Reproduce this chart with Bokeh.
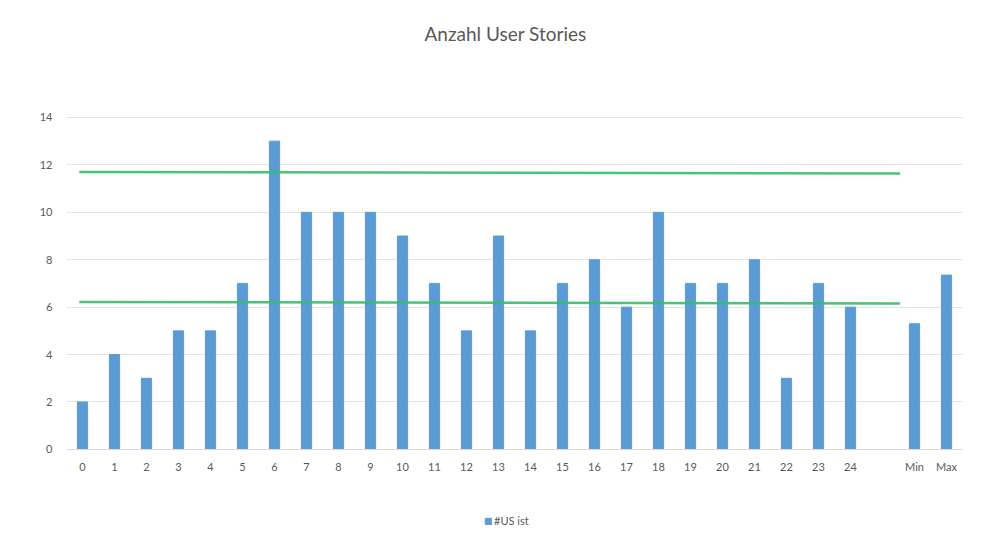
from bokeh.plotting import figure
from bokeh.models import FixedTicker, Legend, LegendItem, ColumnDataSource, Label
from bokeh.embed import file_html
from bokeh.resources import INLINE

title_text = "Anzahl User Stories"
categories = [str(i) for i in range(25)] + ["", "Min", "Max"]
us_ist = [2, 4, 3, 5, 5, 7, 13, 10, 10, 10, 9, 7, 5, 9, 5, 7, 8, 6, 10, 7, 7, 8, 3, 7, 6, None, 5.3, 7.35]
trend_x = [-0.1, 25.55]
trend_upper = [11.7, 11.64]
trend_lower = [6.22, 6.15]
y_ticks = [0, 2, 4, 6, 8, 10, 12, 14]

FONT = "Lato"
GRAY = "#595959"

xs = [i for i, v in enumerate(us_ist) if v is not None]
tops = [v for v in us_ist if v is not None]
src = ColumnDataSource(dict(x=xs, top=tops))

p = figure(width=979, height=535, output_backend="svg", toolbar_location=None,
           x_range=(-0.5, len(categories) - 0.5), y_range=(-3.63, 18.93),
           min_border_left=66, min_border_right=17, min_border_top=0, min_border_bottom=0)
p.outline_line_color = None

bars = p.vbar(x="x", top="top", width=0.32, source=src, color="#5B9BD5")
p.line(trend_x, trend_upper, line_color="#33BE68", line_width=2.5, line_alpha=0.9)
p.line(trend_x, trend_lower, line_color="#33BE68", line_width=2.5, line_alpha=0.9)

title = Label(x=13.22, y=17.55, text=title_text, text_align="center", text_baseline="middle",
              text_font=FONT, text_font_size="19px", text_color=GRAY)
p.add_layout(title)

p.xaxis.fixed_location = 0
p.xaxis.ticker = FixedTicker(ticks=list(range(len(categories))))
p.xaxis.major_label_overrides = {i: c for i, c in enumerate(categories)}
p.xaxis.major_tick_line_color = None
p.xaxis.minor_tick_line_color = None
p.xaxis.axis_line_color = "#d9d9d9"
p.xaxis.major_label_text_font = FONT
p.xaxis.major_label_text_font_size = "11px"
p.xaxis.major_label_text_color = GRAY
p.xaxis.major_label_standoff = 5

p.yaxis.ticker = FixedTicker(ticks=y_ticks)
p.yaxis.axis_line_color = None
p.yaxis.major_tick_line_color = None
p.yaxis.minor_tick_line_color = None
p.yaxis.major_label_text_font = FONT
p.yaxis.major_label_text_font_size = "11px"
p.yaxis.major_label_text_color = GRAY
p.yaxis.major_label_standoff = 8

p.xgrid.grid_line_color = None
p.ygrid.grid_line_color = "#e3e3e3"
p.ygrid.ticker = FixedTicker(ticks=y_ticks)

legend = Legend(items=[LegendItem(label="#US ist", renderers=[bars])],
                orientation="horizontal", location=(418, 8),
                label_text_font=FONT, label_text_font_size="11px", label_text_color=GRAY,
                glyph_width=8, glyph_height=8, border_line_color=None,
                background_fill_alpha=0, padding=4, margin=0, label_standoff=2)
p.add_layout(legend, "center")

open("out.html", "w").write(file_html(p, INLINE))
